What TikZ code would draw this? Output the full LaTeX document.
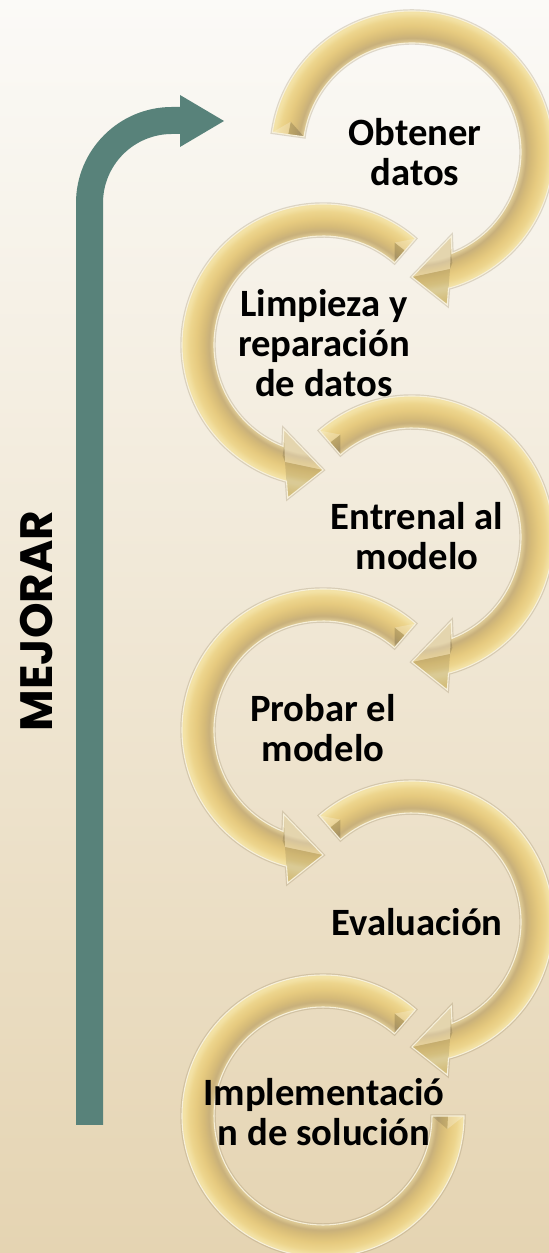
\documentclass[tikz,border=0pt]{standalone}
\usepackage{fontspec}
\newfontfamily\carlito{Carlito}
\newfontfamily\pop{Poppins}
\definecolor{bgtop}{HTML}{FBFAF7}
\definecolor{bgmid}{HTML}{F5F0E5}
\definecolor{bgbot}{HTML}{E5D4B2}
\definecolor{mjteal}{HTML}{58827A}
\definecolor{g0}{HTML}{DCC893}
\definecolor{g1}{HTML}{C8B07B}
\definecolor{g2}{HTML}{D6BB78}
\definecolor{g3}{HTML}{E6CA7F}
\definecolor{g4}{HTML}{EDD58D}
\definecolor{g5}{HTML}{F3E2A6}
\definecolor{rim}{HTML}{F7F0DA}
\pgfdeclareradialshading{ring}{\pgfpoint{0bp}{0bp}}{%
color(0bp)=(g0); color(16.5bp)=(g0); color(17.2bp)=(g0); color(17.8bp)=(g1); color(18.6bp)=(g2);
color(19.8bp)=(g3); color(20.9bp)=(g4); color(21.7bp)=(g5); color(22.1bp)=(g5);
color(23.5bp)=(g4); color(25bp)=(g4); color(50bp)=(g4)}
\tikzset{
  lbl/.style={font=\carlito\bfseries\fontsize{29}{30}\selectfont, align=center, inner sep=0pt, text=black},
  ringshadow/.style={draw={rgb,255:red,150;green,132;blue,95}, draw opacity=.28, line width=2.6pt},
  ringline/.style={draw=rim, line width=0.8pt},
}
% #1 cx, #2 cy, #3 xscale (1 or -1), #4 tail angle
\newcommand\goldarrow[4]{%
\begin{scope}[shift={(#1,#2)},xscale=#3]
 \draw[ringshadow] (#4:141) arc[start angle=#4,end angle=-75,radius=141] -- (-77:157) -- (-90:125) -- (-65:93) -- (-68.5:109) arc[start angle=-68.5,end angle=#4,radius=109] -- cycle;
 \begin{scope}
  \clip (#4:141) arc[start angle=#4,end angle=-75,radius=141] -- (-77:157) -- (-90:125) -- (-65:93) -- (-68.5:109) arc[start angle=-68.5,end angle=#4,radius=109] -- cycle;
  \shade[shading=ring] (0,0) circle (160);
 \end{scope}
 \fill[white,opacity=.25] (-90:125) -- (-65:93) -- (-72:123) -- cycle;
 \fill[black,opacity=.10] (-90:125) -- (-72:123) -- (-77:157) -- cycle;
 \fill[black,opacity=.13] (-72:123) -- (-65:93) -- (-69:109) -- (-70:118) -- cycle;
 \fill[black,opacity=.16] (#4:109) -- (#4-6:125) -- (#4:125) -- cycle;
 \fill[white,opacity=.22] (#4:141) -- (#4-6:125) -- (#4:125) -- cycle;
 \draw[ringline] (#4:141) arc[start angle=#4,end angle=-75,radius=141] -- (-77:157) -- (-90:125) -- (-65:93) -- (-68.5:109) arc[start angle=-68.5,end angle=#4,radius=109] -- cycle;
\end{scope}}
\begin{document}
\begin{tikzpicture}[x=0.75pt,y=0.75pt]
\useasboundingbox (0,0) rectangle (549,1253);
\shade[top color=bgtop, middle color=bgmid, bottom color=bgbot] (0,0) rectangle (549,1253);

% MEJORAR arrow
\fill[mjteal] (76,128) -- (76,1050) arc[start angle=180,end angle=90,radius=96] -- (180,1146) -- (180,1158) -- (224,1132) -- (180,1106) -- (180,1119) -- (172,1119) arc[start angle=90,end angle=180,radius=69] -- (103,128) -- cycle;
\node[rotate=90, font=\pop\bfseries\fontsize{34}{40}\selectfont, inner sep=0pt] (mejorar) at (37,632) {MEJORAR};

% circular arrows
\goldarrow{412}{1101}{1}{172}
\goldarrow{323}{908}{-1}{131}
\goldarrow{412}{716}{1}{131}
\goldarrow{323}{523}{-1}{131}
\goldarrow{412}{331}{1}{131}

% last ring, no arrowhead
\begin{scope}[shift={(323,137)},xscale=-1]
 \draw[ringshadow] (131:141) arc[start angle=131,end angle=-180,radius=141] -- (-180:109) arc[start angle=-180,end angle=131,radius=109] -- cycle;
 \begin{scope}
  \clip (131:141) arc[start angle=131,end angle=-180,radius=141] -- (-180:109) arc[start angle=-180,end angle=131,radius=109] -- cycle;
  \shade[shading=ring] (0,0) circle (160);
 \end{scope}
 \fill[black,opacity=.16] (131:109) -- (125:125) -- (131:125) -- cycle;
 \fill[white,opacity=.22] (131:141) -- (125:125) -- (131:125) -- cycle;
 \fill[white,opacity=.25] (-180:141) -- (-174:125) -- (-180:125) -- cycle;
 \fill[black,opacity=.12] (-180:109) -- (-174:125) -- (-180:125) -- cycle;
 \draw[ringline] (131:141) arc[start angle=131,end angle=-180,radius=141] -- (-180:109) arc[start angle=-180,end angle=131,radius=109] -- cycle;
\end{scope}

% labels
\node[lbl] (t1) at (415,1101) {Obtener\\datos};
\node[lbl] (t2) at (324,910) {Limpieza y\\reparación\\de datos};
\node[lbl] (t3) at (417,717) {Entrenal al\\modelo};
\node[lbl] (t4) at (323,525) {Probar el\\modelo};
\node[lbl] (t5) at (417,331) {Evaluación};
\node[lbl] (t6) at (324,141) {Implementació\\n de solución};
\end{tikzpicture}
\end{document}
